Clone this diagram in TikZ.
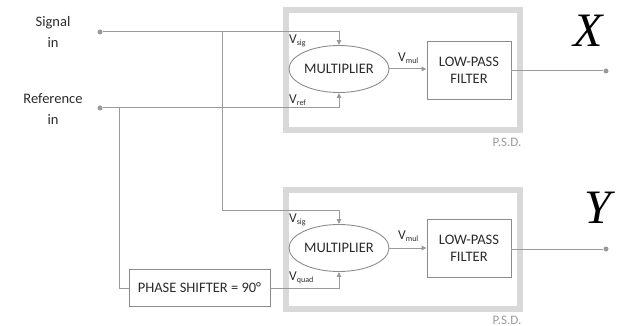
\documentclass[tikz,border=0pt]{standalone}
\usepackage{fontspec}
\setmainfont{Carlito}
\newfontfamily\bigvar{Liberation Serif}
\usetikzlibrary{shapes.geometric,arrows.meta}
\definecolor{PSDFrame}{HTML}{D9D9D9}
\definecolor{WireGray}{HTML}{9A9A9A}
\definecolor{BoxGray}{HTML}{8C8C8C}
\definecolor{TextGray}{HTML}{2B2B2B}
\definecolor{NoteGray}{HTML}{9A9A9A}
\newcommand{\Vsub}[1]{V\raisebox{-0.35ex}{\fontsize{8}{9}\selectfont #1}}

\begin{document}
\begin{tikzpicture}[x=1pt,y=-1pt,
  wire/.style={WireGray,line width=1pt},
  tipped/.style={-{Triangle[length=5pt,width=4.5pt]}},
  mult/.style={ellipse,draw=BoxGray,line width=0.9pt,minimum width=100pt,minimum height=47pt,inner sep=0pt,text=TextGray,font=\fontsize{14.5}{17}\selectfont},
  lpf/.style={rectangle,draw=BoxGray,line width=0.9pt,minimum width=84pt,minimum height=58pt,inner sep=0pt,align=center,text=TextGray,font=\fontsize{14.5}{17}\selectfont},
  psd/.style={PSDFrame,line width=5.5pt},
  vlab/.style={anchor=west,inner sep=0pt,text=TextGray,font=\fontsize{13.5}{15}\selectfont},
  inlab/.style={align=center,text=TextGray,font=\fontsize{14.5}{21}\selectfont},
  note/.style={inner sep=0pt,text=NoteGray,font=\fontsize{13}{14}\selectfont},
  outlab/.style={text=black,font=\bigvar\itshape\fontsize{48}{50}\selectfont},
  dot/.style={circle,fill=WireGray,inner sep=0pt,minimum size=5pt}]
\path[use as bounding box] (0,0) rectangle (619,326);

% inputs
\node[inlab] (siglab) at (53,32) {Signal\\in};
\node[inlab] (reflab) at (53,109) {Reference\\in};
\node[dot] (sigin) at (100,32) {};
\node[dot] (refin) at (100,108) {};
\coordinate (sigsplit) at (222,32);
\coordinate (refsplit) at (119,108);

% upper P.S.D.
\draw[psd] (286,10) rectangle (520,130);
\node[note] (psdA) at (507,142) {P.S.D.};
\node[mult] (multA) at (339,69) {MULTIPLIER};
\node[lpf] (lpfA) at (469,70) {LOW-PASS\\FILTER};
\node[dot] (outA) at (606,71) {};
\node[outlab] (xlab) at (588,31) {X};
\draw[wire,tipped] (sigin) -| (multA.north);
\draw[wire,tipped] (refin) -| (multA.south);
\draw[wire,tipped] (multA.east) -- (multA.east -| lpfA.west);
\draw[wire] (lpfA.east |- outA) -- (outA);
\node[vlab] (vsigA) at (289,41) {\Vsub{sig}};
\node[vlab] (vrefA) at (289,100) {\Vsub{ref}};
\node[vlab] (vmulA) at (398,58) {\Vsub{mul}};

% lower P.S.D.
\draw[psd] (286,190) rectangle (520,309);
\node[note] (psdB) at (507,320) {P.S.D.};
\node[mult] (multB) at (339,248) {MULTIPLIER};
\node[lpf] (lpfB) at (469,248) {LOW-PASS\\FILTER};
\node[dot] (outB) at (606,249) {};
\node[outlab] (ylab) at (598,208) {Y};
\node[rectangle,draw=BoxGray,line width=0.9pt,minimum width=141pt,minimum height=37pt,inner sep=0pt,text=TextGray,font=\fontsize{14.5}{17}\selectfont] (phase) at (199.5,288) {PHASE SHIFTER = 90°};
\coordinate (sigB) at (339,211);
\draw[wire,tipped] (sigsplit) |- (sigB) -- (multB.north);
\draw[wire] (refsplit) |- (phase.west);
\draw[wire,tipped] (phase.east) -| (multB.south);
\draw[wire,tipped] (multB.east) -- (multB.east -| lpfB.west);
\draw[wire] (lpfB.east |- outB) -- (outB);
\node[vlab] (vsigB) at (289,220) {\Vsub{sig}};
\node[vlab] (vquadB) at (289,278) {\Vsub{quad}};
\node[vlab] (vmulB) at (398,236) {\Vsub{mul}};
\end{tikzpicture}
\end{document}
